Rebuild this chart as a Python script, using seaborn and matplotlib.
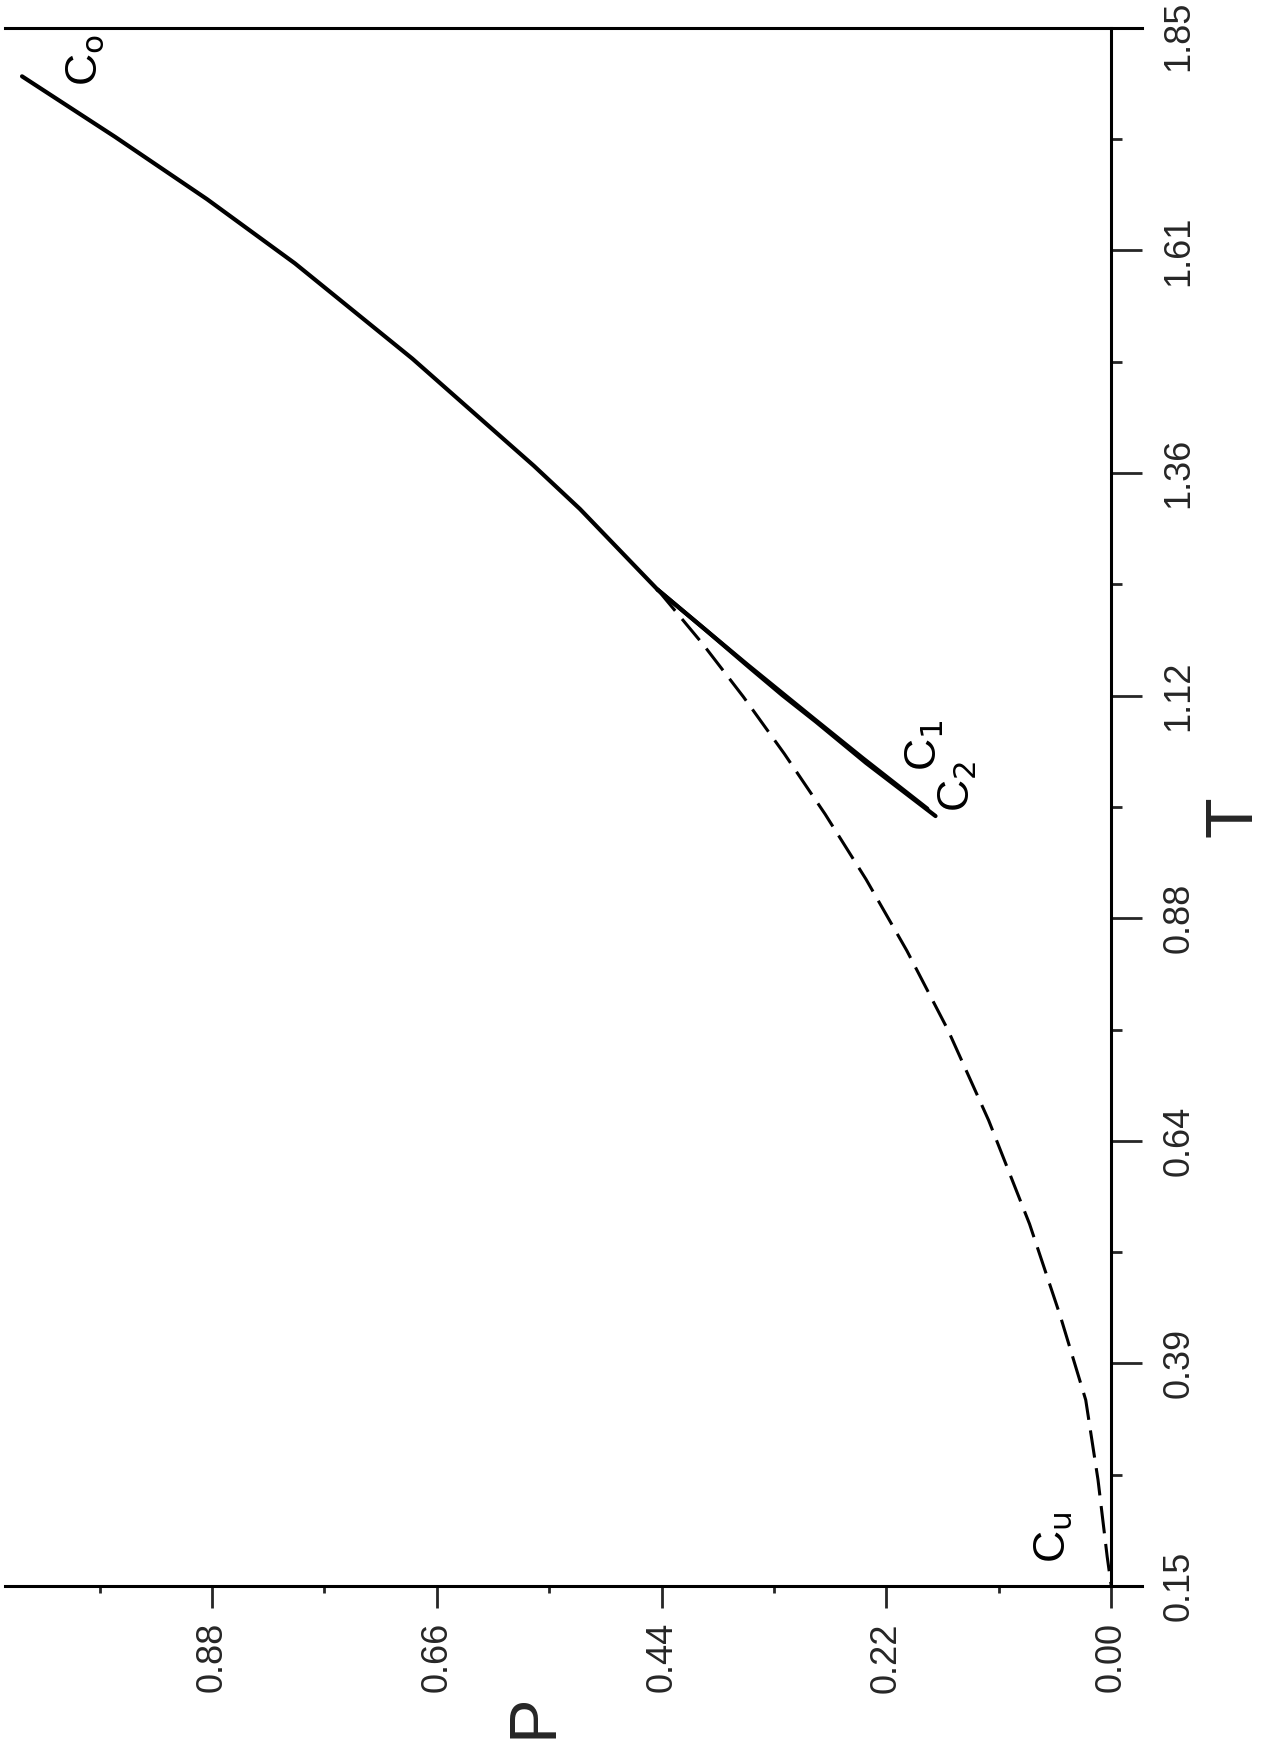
import numpy as np
import pandas as pd
import matplotlib
matplotlib.use('Agg')
import matplotlib.pyplot as plt
import matplotlib.transforms as mtransforms
import seaborn as sns
from matplotlib.ticker import FixedLocator

# values (P horizontal, growing to the left; T vertical)
c0_p = [1.066, 0.975, 0.885, 0.799, 0.684, 0.565, 0.520, 0.444]
c0_t = [1.797, 1.731, 1.663, 1.593, 1.489, 1.372, 1.325, 1.237]

c1_p = [0.444, 0.399, 0.356, 0.324, 0.292, 0.243, 0.180]
c1_t = [1.237, 1.195, 1.155, 1.126, 1.097, 1.053, 0.998]

c2_p = [0.444, 0.398, 0.354, 0.322, 0.289, 0.240, 0.172]
c2_t = [1.237, 1.194, 1.152, 1.122, 1.093, 1.048, 0.990]

cu_p = [0.444, 0.40, 0.36, 0.32, 0.28, 0.24, 0.20, 0.16,
        0.12, 0.08, 0.05, 0.025, 0.013, 0.004, 0.0]
cu_t = [1.237, 1.178, 1.120, 1.058, 0.992, 0.921, 0.843, 0.757,
        0.658, 0.545, 0.445, 0.353, 0.266, 0.182, 0.150]

t_labels = ['0.15', '0.39', '0.64', '0.88', '1.12', '1.36', '1.61', '1.85']
p_major = [0.00, 0.22, 0.44, 0.66, 0.88]
p_labels = ['0.00', '0.22', '0.44', '0.66', '0.88']

sns.set_style('white')
plt.rcParams['font.family'] = ['Liberation Sans', 'DejaVu Sans']

fig = plt.figure(figsize=(12.66, 17.45), dpi=100)
ax = fig.add_axes([0.004, 0.0911, 0.898, 0.893])

solid = dict(color='black', linewidth=3.0, sort=False, legend=False, ax=ax)
sns.lineplot(data=pd.DataFrame({'P': c0_p, 'T': c0_t}), x='P', y='T', **solid)
sns.lineplot(data=pd.DataFrame({'P': c1_p, 'T': c1_t}), x='P', y='T', **solid)
sns.lineplot(data=pd.DataFrame({'P': c2_p, 'T': c2_t}), x='P', y='T', **solid)
sns.lineplot(data=pd.DataFrame({'P': cu_p, 'T': cu_t}), x='P', y='T',
             color='black', linewidth=2.2, sort=False, legend=False, ax=ax)
ax.lines[-1].set_dashes((9, 3.5))

ax.set_xlim(1.0826, -0.03)
ax.set_ylim(0.15, 1.85)

for s in ['top', 'bottom', 'right']:
    ax.spines[s].set_visible(True)
    ax.spines[s].set_color('black')
    ax.spines[s].set_linewidth(2.2)
ax.spines['left'].set_visible(False)
ax.spines['right'].set_position(('data', 0))

# T axis on the right
t_major = np.linspace(0.15, 1.85, 8)
ax.yaxis.tick_right()
ax.yaxis.set_major_locator(FixedLocator(t_major))
ax.yaxis.set_minor_locator(FixedLocator((t_major[:-1] + t_major[1:]) / 2))
ax.set_yticklabels(t_labels, rotation=90, va='center', fontsize=26)
ax.tick_params(axis='y', which='major', direction='out', length=22, width=2, pad=14,
               right=True, left=False)
ax.tick_params(axis='y', which='minor', direction='out', length=8, width=2,
               right=True, left=False)

# P axis at the bottom
ax.xaxis.tick_bottom()
ax.xaxis.set_major_locator(FixedLocator(p_major))
ax.xaxis.set_minor_locator(FixedLocator([0.11, 0.33, 0.55, 0.77, 0.99]))
ax.set_xticklabels(p_labels, rotation=90, ha='center', fontsize=26)
ax.tick_params(axis='x', which='major', direction='out', length=16, width=2, pad=10)
ax.tick_params(axis='x', which='minor', direction='out', length=5, width=2)

# keep the top label inside the picture
top_lab = ax.get_yticklabels()[-1]
top_lab.set_transform(top_lab.get_transform() +
                      mtransforms.ScaledTranslation(0, -6 / 72, fig.dpi_scale_trans))

ax.set_xlabel('P', rotation=90, fontsize=48, ha='center', va='center')
ax.xaxis.set_label_coords(0.466, -0.083)
ax.yaxis.set_label_position('right')
ax.set_ylabel('T', rotation=90, fontsize=48, ha='center', va='center')
ax.yaxis.set_label_coords(1.081, 0.494)

# curve names
lab = dict(rotation=90, fontsize=32, ha='center', va='center', color='black')
ax.text(1.004, 1.815, r'C$_{\mathrm{o}}$', **lab)
ax.text(0.182, 1.067, r'C$_{\mathrm{1}}$', **lab)
ax.text(0.150, 1.022, r'C$_{\mathrm{2}}$', **lab)
ax.text(0.057, 0.203, r'C$_{\mathrm{u}}$', **lab)

fig.savefig('out.png', dpi=100, facecolor='white')
